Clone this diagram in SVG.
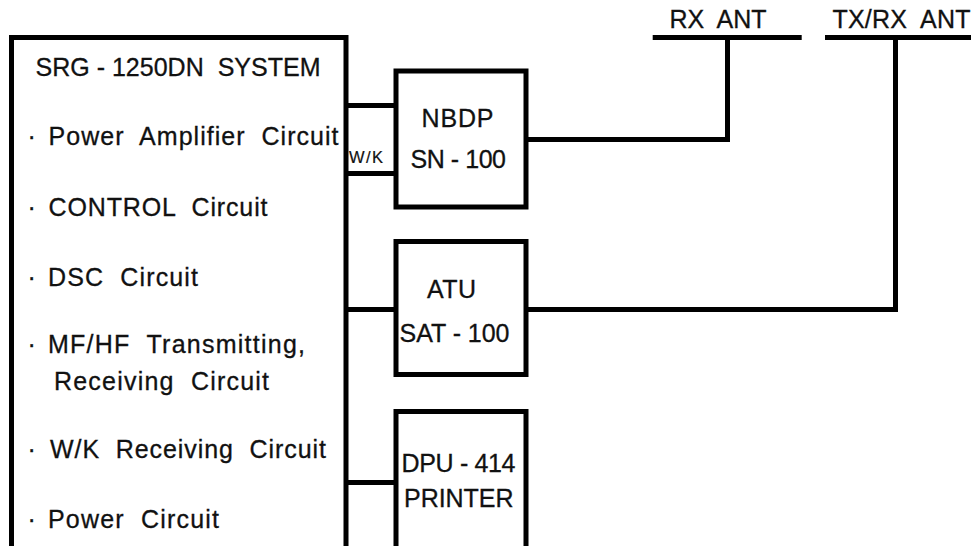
<svg xmlns="http://www.w3.org/2000/svg" width="971" height="546" viewBox="0 0 971 546">
<style>
.ln{fill:none;stroke:#000;stroke-width:5;stroke-linecap:butt;stroke-linejoin:miter}
text{font-family:"Liberation Sans",Arial,sans-serif;fill:#111;stroke:#111;stroke-width:0.3;white-space:pre}
.t{font-size:25px}
.b{font-size:25px}
.s{font-size:16.5px;stroke-width:0.2}
</style>
<rect width="971" height="546" fill="#fff"/>
<g id="connectors">
<path class="ln" d="M346,105.5H396"/>
<path class="ln" d="M346,173.5H396"/>
<path class="ln" d="M526,139.5H727.5V37.5"/>
<path class="ln" d="M526,309.5H895.5V37.5"/>
<path class="ln" d="M346,309.5H396"/>
<path class="ln" d="M346,482.5H396"/>
<text class="s" x="349" y="163" textLength="34" lengthAdjust="spacing">W/K</text>
</g>
<g id="srg-1250dn-system">
<path class="ln" d="M11.5,550V37.5H346V550"/>
<text class="t" x="35.5" y="76" textLength="285" lengthAdjust="spacing">SRG - 1250DN  SYSTEM</text>
<text class="t" x="27.5" y="145">·</text>
<text class="t" x="48.5" y="145" textLength="290" lengthAdjust="spacing">Power  Amplifier  Circuit</text>
<text class="t" x="27.5" y="216">·</text>
<text class="t" x="48.5" y="216" textLength="219" lengthAdjust="spacing">CONTROL  Circuit</text>
<text class="t" x="27.5" y="286">·</text>
<text class="t" x="48" y="286" textLength="150" lengthAdjust="spacing">DSC  Circuit</text>
<text class="t" x="27.5" y="353">·</text>
<text class="t" x="48" y="353" textLength="257" lengthAdjust="spacing">MF/HF  Transmitting,</text>
<text class="t" x="54" y="390" textLength="215" lengthAdjust="spacing">Receiving  Circuit</text>
<text class="t" x="27.5" y="458">·</text>
<text class="t" x="50" y="458" textLength="276" lengthAdjust="spacing">W/K  Receiving  Circuit</text>
<text class="t" x="27.5" y="528">·</text>
<text class="t" x="48" y="528" textLength="171" lengthAdjust="spacing">Power  Circuit</text>
</g>
<g id="nbdp-sn-100">
<rect class="ln" x="396" y="71" width="130" height="136"/>
<text class="b" x="421.5" y="127" textLength="72" lengthAdjust="spacing">NBDP</text>
<text class="b" x="410.5" y="168" textLength="95.5" lengthAdjust="spacing">SN - 100</text>
</g>
<g id="atu-sat-100">
<rect class="ln" x="396" y="241.5" width="130" height="133"/>
<text class="b" x="427" y="298" textLength="49" lengthAdjust="spacing">ATU</text>
<text class="b" x="399.5" y="342" textLength="110" lengthAdjust="spacing">SAT - 100</text>
</g>
<g id="dpu-414-printer">
<path class="ln" d="M396,550V411.5H526V550"/>
<text class="b" x="401.5" y="472" textLength="114" lengthAdjust="spacing">DPU - 414</text>
<text class="b" x="404" y="507" textLength="109.5" lengthAdjust="spacing">PRINTER</text>
</g>
<g id="rx-ant">
<path class="ln" d="M652.7,37.5H801.7"/>
<text class="b" x="669.5" y="28" textLength="97" lengthAdjust="spacing">RX  ANT</text>
</g>
<g id="tx-rx-ant">
<path class="ln" d="M825,37.5H975"/>
<text class="b" x="832.5" y="28" textLength="138" lengthAdjust="spacing">TX/RX  ANT</text>
</g>
</svg>
